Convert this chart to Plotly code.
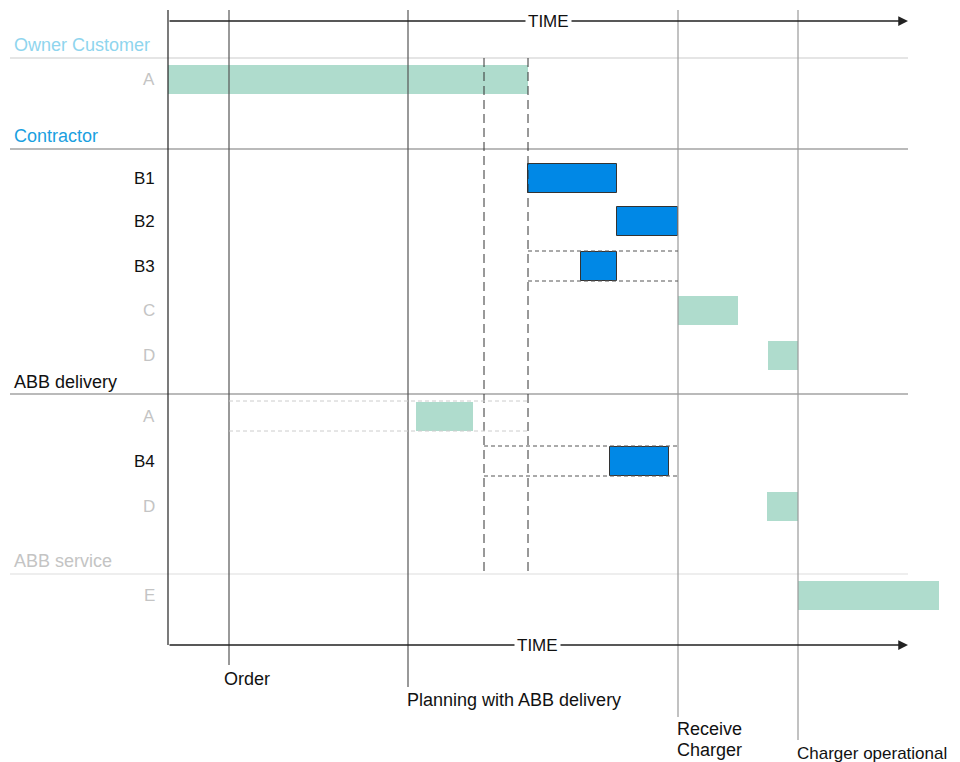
import plotly.graph_objects as go

# time in arbitrary units from project start
milestones = ["Order", "Planning with ABB delivery", "Receive<br>Charger", "Charger operational"]
milestone_t = [61, 240, 510, 630]
window_t = [316, 360]  # dashed planning window
time_end = 740

groups = ["Owner Customer", "Contractor", "ABB delivery", "ABB service"]
group_colors = ["#8fd5ee", "#1a9fe0", "#111111", "#c4c4c4"]

tasks = ["A", "B1", "B2", "B3", "C", "D", "A", "B4", "D", "E"]
task_start = [0, 360, 449, 413, 510, 600, 248, 442, 599, 630]
task_end = [360, 449, 510, 449, 570, 630, 305, 501, 630, 771]
task_contractor = [False, True, True, True, False, False, False, True, False, False]

# slack windows (task index, from, to)
slack_task = [3, 7, 6]
slack_from = [360, 316, 61]
slack_to = [510, 510, 360]

# layout (pixels)
X0 = 168
PAGE = 8  # body margin of the html page
row_y = [79, 178, 221, 266, 310, 355, 416, 461, 506, 595]
group_y = [45, 136, 382, 561]
sep_y = [58, 149, 394, 574]
sep_col = ["#cccccc", "#777777", "#777777", "#dddddd"]
ms_line_end = [665, 687, 717, 740]
ms_label_y = [[679], [700], [729, 750], [753]]
ms_label_fs = [18, 18, 18, 17]
ms_line_col = ["#555555", "#555555", "#999999", "#999999"]
TEAL = "#afdccd"
BLUE = "#0088e6"
FONT = "Liberation Sans, Arial, sans-serif"
FS = 18

fig = go.Figure()

for flag, col, lc, lw in [(False, TEAL, TEAL, 0), (True, BLUE, "#333333", 1)]:
    idx = [i for i in range(len(tasks)) if task_contractor[i] == flag]
    fig.add_trace(go.Bar(
        y=[row_y[i] for i in idx],
        x=[task_end[i] - task_start[i] for i in idx],
        base=[task_start[i] for i in idx],
        orientation="h", width=29,
        marker=dict(color=col, line=dict(color=lc, width=lw)),
        hoverinfo="skip", showlegend=False,
    ))

shapes = []
# group separators
for y, c in zip(sep_y, sep_col):
    shapes.append(dict(type="line", xref="x", yref="y", x0=-158, x1=time_end,
                       y0=y, y1=y, line=dict(color=c, width=1.2)))
# axis line on left
shapes.append(dict(type="line", xref="x", yref="y", x0=0, x1=0, y0=10, y1=645,
                   line=dict(color="#222222", width=1.2)))
# milestone lines
for t, ye, c in zip(milestone_t, ms_line_end, ms_line_col):
    shapes.append(dict(type="line", xref="x", yref="y", x0=t, x1=t, y0=10, y1=ye,
                       line=dict(color=c, width=1.2)))
# dashed planning window
for t in window_t:
    shapes.append(dict(type="line", xref="x", yref="y", x0=t, x1=t, y0=58, y1=573,
                       line=dict(color="#333333", width=1, dash="9px,5px")))
# slack windows
for k, (ti, a, b) in enumerate(zip(slack_task, slack_from, slack_to)):
    col = "#cccccc" if k == 2 else "#555555"
    for dy in (-15, 15):
        shapes.append(dict(type="line", xref="x", yref="y", x0=a, x1=b,
                           y0=row_y[ti] + dy, y1=row_y[ti] + dy,
                           line=dict(color=col, width=1, dash="4px,3px")))

ann = []
# time arrows
for y, tx in [(21, 380), (645, 369)]:
    ann.append(dict(x=time_end, y=y, ax=0, ay=y, xref="x", yref="y", axref="x", ayref="y",
                    showarrow=True, arrowhead=2, arrowsize=1.3, arrowwidth=1.5,
                    arrowcolor="#222222", text=""))
    ann.append(dict(x=tx, y=y, xref="x", yref="y", text="TIME", showarrow=False,
                    bgcolor="white", font=dict(size=FS - 1, color="#111111"), borderpad=2))
# group headers
for g, y, c in zip(groups, group_y, group_colors):
    ann.append(dict(x=-156, y=y, xref="x", yref="y", text=g, showarrow=False,
                    xanchor="left", font=dict(size=FS, color=c)))
# row labels
for i, t in enumerate(tasks):
    c = "#111111" if task_contractor[i] else "#c4c4c4"
    ann.append(dict(x=-11, y=row_y[i], xref="x", yref="y", text=t, showarrow=False,
                    xanchor="right", font=dict(size=FS - 1, color=c)))
# milestone labels
for k, (m, t) in enumerate(zip(milestones, milestone_t)):
    parts = m.split("<br>")
    dx = 18 if k == 0 else -3
    for p, y in zip(parts, ms_label_y[k]):
        ann.append(dict(x=t + dx, y=y, xref="x", yref="y", text=p, showarrow=False,
                        xanchor="center" if k == 0 else "left",
                        font=dict(size=ms_label_fs[k], color="#111111")))

fig.update_layout(
    width=960, height=762,
    margin=dict(l=0, r=0, t=0, b=0),
    paper_bgcolor="white", plot_bgcolor="white",
    font=dict(family=FONT),
    xaxis=dict(range=[-X0 + PAGE, 960 - X0 + PAGE], visible=False, fixedrange=True),
    yaxis=dict(range=[762 + PAGE, PAGE], visible=False, fixedrange=True),
    shapes=shapes, annotations=ann,
    barmode="overlay", bargap=0,
)

fig.write_html("out.html")
